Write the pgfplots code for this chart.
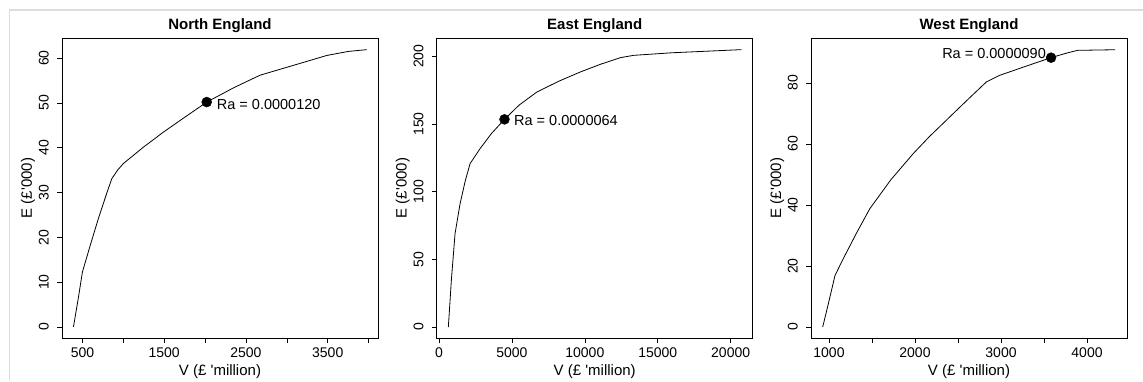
\documentclass[border=0pt]{standalone}
\usepackage{pgfplots}
\pgfplotsset{compat=1.18}
\usepackage{fontspec}
\setmainfont{Liberation Sans}
\definecolor{framegray}{HTML}{DDDDDD}
\tikzset{ralabel/.style={font=\fontsize{14.5}{14.5}\selectfont, inner sep=0pt}}
\pgfplotsset{
  rstyle/.style={
    scale only axis, width=316pt, height=300pt, anchor=south west,
    axis line style={black, line width=0.6pt},
    tick style={black, line width=0.6pt},
    tick align=outside, major tick length=5pt,
    xtick pos=bottom, ytick pos=left,
    scaled ticks=false,
    /pgf/number format/assume math mode=true,
    /pgf/number format/1000 sep={},
    tick label style={font=\fontsize{14}{14}\selectfont},
    yticklabel style={rotate=90, anchor=south, inner sep=0pt, yshift=8pt},
    xticklabel style={anchor=north, inner sep=0pt, yshift=-5pt},
    label style={font=\fontsize{15}{15}\selectfont},
    title style={font=\fontsize{15}{15}\selectfont\bfseries, anchor=base, at={(rel axis cs:0.5,1)}, yshift=2pt},
    xlabel style={anchor=base, at={([yshift=-37pt]rel axis cs:0.5,0)}},
    ylabel style={anchor=base, rotate=0, at={([xshift=-30pt]rel axis cs:0,0.5)}},
    xlabel={V (£ \textquotesingle million)},
    ylabel={E (£\textquotesingle 000)},
  },
  curve/.style={black, line width=0.8pt, no markers},
  dot/.style={only marks, mark=*, mark size=5pt, mark options={fill=black, draw=black}},
}
\begin{document}
\begin{tikzpicture}[x=1pt,y=1pt]
\path[use as bounding box] (0,0) rectangle (1143,381);
\draw[framegray, line width=1.2pt] (9.5,0) -- (9.5,371) -- (1143,371);

% North England
\begin{axis}[rstyle, at={(62pt,43pt)},
  title={North England},
  xmin=250, xmax=4115, ymin=-2.46, ymax=64.5,
  xtick={500,1000,1500,2000,2500,3000,3500,4000},
  xticklabels={500,,1500,,2500,,3500,},
  ytick={0,10,20,30,40,50,60}]
\addplot[curve] coordinates {
(390,0) (450,6.5) (500,12.3) (600,18.5) (700,24.5) (800,30.0) (859,33.1) (930,35.0) (1002,36.5)
(1250,40.2) (1491,43.5) (1750,46.8) (2021,50.2) (2350,53.4) (2673,56.2) (3100,58.5) (3488,60.6) (3750,61.5) (3977,61.9)};
\addplot[dot] coordinates {(2020,50.2)};
\node[ralabel, anchor=west] at (axis cs:2020,50.2) [xshift=10pt, yshift=-2pt] {Ra = 0.0000120};
\end{axis}

% East England
\begin{axis}[rstyle, at={(436.7pt,43pt)},
  title={East England},
  xmin=-158, xmax=21512, ymin=-8.1, ymax=213.5,
  xtick={0,5000,10000,15000,20000},
  ytick={0,50,100,150,200}]
\addplot[curve] coordinates {
(641,0) (850,35) (1100,69) (1443,91) (1800,108) (2131,120.7) (2818,131.8) (3600,143) (4490,153.4)
(5500,164) (6712,173.6) (8200,181.5) (9691,188.4) (11100,194.2) (12440,199) (13356,200.7) (16000,202.6) (20733,204.9)};
\addplot[dot] coordinates {(4490,153.4)};
\node[ralabel, anchor=west] at (axis cs:4490,153.4) [xshift=9.5pt, yshift=-1pt] {Ra = 0.0000064};
\end{axis}

% West England
\begin{axis}[rstyle, at={(811pt,43pt)},
  title={West England},
  xmin=791, xmax=4465, ymin=-3.6, ymax=94.75,
  xtick={1000,1500,2000,2500,3000,3500,4000},
  xticklabels={1000,,2000,,3000,,4000},
  ytick={0,20,40,60,80}]
\addplot[curve] coordinates {
(927,0) (1000,8.5) (1070,16.9) (1166,22.4) (1320,30.8) (1475,38.8) (1720,48.3) (1978,56.8) (2170,62.5) (2365,67.8)
(2600,74.2) (2828,80.3) (2983,82.5) (3280,85.4) (3582,88.3) (3750,89.7) (3891,90.7) (4100,90.8) (4328,90.9)};
\addplot[dot] coordinates {(3582,88.3)};
\node[ralabel, anchor=east] at (axis cs:3582,88.3) [xshift=-5pt, yshift=4.5pt] {Ra = 0.0000090};
\end{axis}
\end{tikzpicture}
\end{document}
